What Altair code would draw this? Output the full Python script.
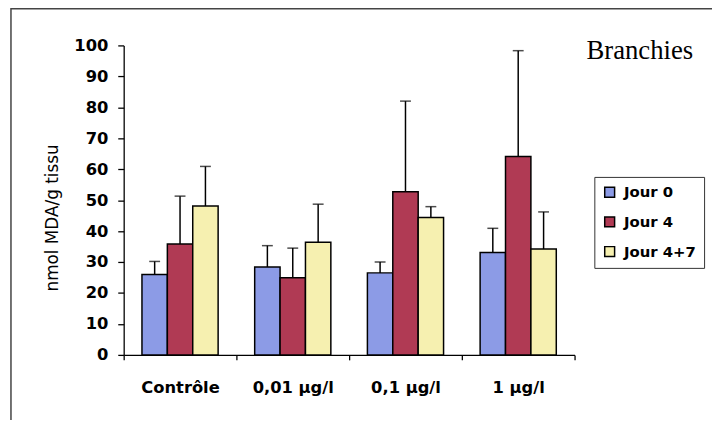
import altair as alt
import pandas as pd

groups = ["Contrôle", "0,01 µg/l", "0,1 µg/l", "1 µg/l"]
series = ["Jour 0", "Jour 4", "Jour 4+7"]
colors = ["#8C9BE6", "#B03A54", "#F6F0B0"]

jour0 = [26.0, 28.4, 26.5, 33.1]
jour4 = [35.8, 24.9, 52.7, 64.1]
jour47 = [48.1, 36.4, 44.4, 34.2]
err0 = [4.2, 6.9, 3.5, 7.8]
err4 = [15.5, 9.6, 29.3, 34.2]
err47 = [12.8, 12.3, 3.5, 12.0]
y_ticks = [0.0, 10.0, 20.0, 30.0, 40.0, 50.0, 60.0, 70.0, 80.0, 90.0, 100.0]
panel_title = ["Branchies"]

rows = []
for s, means, errs in zip(series, [jour0, jour4, jour47], [err0, err4, err47]):
    for g, m, e in zip(groups, means, errs):
        rows.append({"group": g, "serie": s, "mean": m, "upper": m + e})
df = pd.DataFrame(rows)

x_enc = alt.X("group:N", sort=groups,
              scale=alt.Scale(paddingInner=0, paddingOuter=0),
              axis=alt.Axis(title=None, labelAngle=0, tickBand="extent",
                            tickSize=5, labelPadding=20, domainWidth=1.3,
                            tickWidth=1.3))
xo_enc = alt.XOffset("serie:N", sort=series,
                     scale=alt.Scale(paddingInner=0, paddingOuter=0.72))
y_scale = alt.Scale(domain=[0, 100], nice=False)
y_axis = alt.Axis(values=y_ticks, labelOverlap=False,
                  title="nmol MDA/g tissu",
                  titleFont="DejaVu Sans", titleFontWeight="normal",
                  titleFontSize=17, titleColor="black", titleY=174,
                  tickSize=6, labelPadding=10, titlePadding=12,
                  domainWidth=1.3, tickWidth=1.3)

base = alt.Chart(df).encode(x=x_enc, xOffset=xo_enc)

bars = base.mark_bar(stroke="black", strokeWidth=1.5).encode(
    y=alt.Y("mean:Q", scale=y_scale, axis=y_axis),
    color=alt.Color("serie:N", sort=series,
                    scale=alt.Scale(domain=series, range=colors),
                    legend=alt.Legend(title=None, orient="none", legendX=476,
                                      legendY=133, strokeColor="#333",
                                      padding=8, symbolType="square",
                                      symbolSize=100, symbolStrokeColor="black",
                                      symbolStrokeWidth=1.5, symbolOpacity=1,
                                      labelFont="DejaVu Sans",
                                      labelFontWeight="bold", labelFontSize=15,
                                      labelColor="black", rowPadding=13,
                                      labelOffset=7, fillColor="white")),
)

whiskers = base.mark_rule(color="black", strokeWidth=1.5).encode(
    y=alt.Y("mean:Q", scale=y_scale, axis=y_axis), y2="upper:Q")
caps = base.mark_tick(color="black", thickness=1.5, size=11,
                      orient="horizontal").encode(
    y=alt.Y("upper:Q", scale=y_scale, axis=y_axis))

frame = alt.Chart(pd.DataFrame({"t": [0]})).mark_rect(
    fillOpacity=0, stroke="#444", strokeWidth=1.5).encode(
    x=alt.value(-114), x2=alt.value(650), y=alt.value(-37), y2=alt.value(420))

title_txt = alt.Chart(pd.DataFrame({"t": panel_title})).mark_text(
    font="Liberation Serif", fontSize=27, align="center",
    baseline="alphabetic", color="black").encode(
    x=alt.value(522), y=alt.value(13.5), text="t:N")

chart = alt.layer(bars, whiskers, caps, frame, title_txt).properties(
    width=456, height=313, autosize="none",
    padding={"left": 117, "top": 35.5, "right": 139, "bottom": 63},
    background="white",
).configure_view(strokeWidth=0).configure_axis(
    domainColor="black", tickColor="black", labelColor="black", grid=False,
    labelFont="DejaVu Sans", labelFontWeight="bold", labelFontSize=16.5
).configure_axisY(tickCount=11, labelOverlap=False)

chart.save("out.html", embed_options={"renderer": "svg", "actions": False})
